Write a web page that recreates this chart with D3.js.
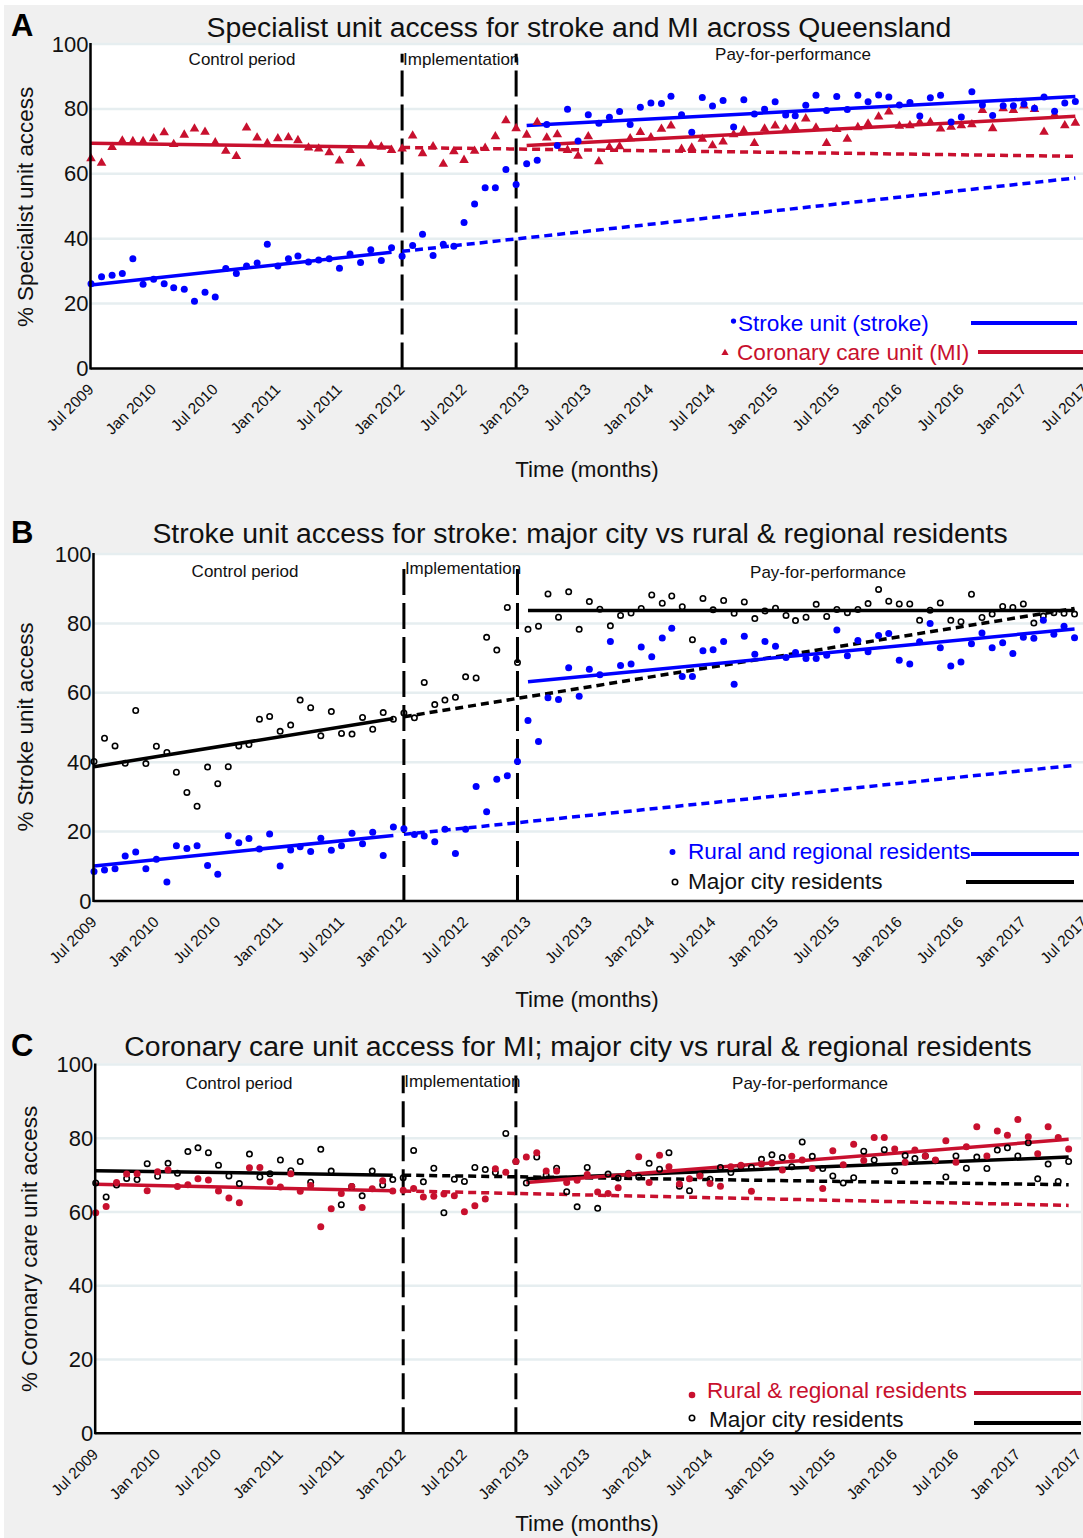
<!DOCTYPE html>
<html>
<head>
<meta charset="utf-8">
<script src="https://cdn.jsdelivr.net/npm/d3@7"></script>
<style>
  body { margin: 0; background: #fff; }
  svg { display: block; font-family: "Liberation Sans", Arial, Helvetica, sans-serif; }
</style>
</head>
<body>
<svg></svg>
<script>
// months Jul 2009 .. Jun 2017 (96 monthly points)
const startDate = new Date(2009, 6, 1);
const endDate = new Date(2017, 6, 1);
const monthDates = d3.timeMonth.range(startDate, endDate);
const tickDates = d3.timeMonth.every(6).range(startDate, new Date(2017, 7, 1));
const yTicks = [0, 20, 40, 60, 80, 100];
const phaseBreaks = [30, 41]; // Jan 2012, Dec 2012
const periodNames = ["Control period", "Implementation", "Pay-for-performance"];

// panel A
const strokeUnit = [26.1, 28.3, 28.7, 29.3, 33.8, 26.0, 27.5, 26.1, 24.9, 24.4, 20.7, 23.5, 22.0, 30.8, 29.3, 31.6, 32.5, 38.3, 31.6, 33.8, 34.7, 32.8, 33.4, 33.8, 30.9, 35.3, 32.7, 36.6, 33.3, 37.2, 34.6, 37.9, 41.4, 34.8, 38.3, 37.7, 45.0, 50.7, 55.7, 55.7, 61.3, 56.7, 63.1, 64.2,
  75.2, 68.7, 79.9, 70.1, 78.2, 75.6, 77.4, 79.2, 75.2, 80.5, 81.8, 81.7, 83.9, 78.2, 72.8, 83.5, 80.9, 82.6, 74.4, 82.8, 78.4, 79.9, 82.2, 78.1, 77.9, 81.1, 84.2, 79.5, 83.8, 79.8, 84.2, 82.2, 84.3, 83.7, 81.2, 82.0, 77.8, 83.4, 84.2, 76.0, 77.5, 85.3, 81.2, 78.0, 81.0, 81.0, 81.5, 80.2, 83.7, 79.3, 81.8, 82.3];
const coronaryUnit = [64.7, 63.3, 68.2, 70.2, 70.0, 70.0, 70.9, 72.7, 69.1, 72.0, 73.9, 72.9, 69.6, 67.0, 65.4, 74.2, 71.1, 69.4, 70.9, 71.2, 70.3, 68.0, 67.7, 66.6, 64.0, 67.3, 63.2, 68.9, 68.3, 67.3, 67.7, 71.7, 66.3, 68.4, 63.0, 66.9, 64.2, 67.0, 67.9, 71.5, 76.4, 74.0, 72.0, 75.9,
  71.1, 72.1, 67.3, 65.5, 71.5, 63.8, 68.2, 68.4, 70.9, 72.8, 71.2, 73.8, 74.8, 67.6, 68.0, 70.7, 68.7, 69.9, 72.1, 73.3, 69.4, 73.9, 74.8, 73.7, 74.3, 77.0, 74.2, 69.4, 73.7, 70.7, 74.3, 75.4, 77.6, 79.1, 74.7, 74.9, 75.8, 75.9, 73.9, 74.4, 74.9, 75.2, 79.6, 74.0, 80.1, 79.6, 81.0, 79.9, 72.9, 78.2, 74.9, 75.7];

// panel B
const strokeRural = [8.5, 8.9, 9.3, 13.0, 14.1, 9.3, 12.0, 5.5, 15.9, 15.1, 15.9, 10.2, 7.7, 18.8, 16.8, 18.0, 15.0, 19.3, 10.1, 14.7, 15.6, 14.3, 18.1, 14.6, 15.9, 19.5, 16.5, 19.8, 13.1, 21.3, 20.8, 19.2, 18.7, 17.1, 20.7, 13.7, 20.7, 33.0, 25.7, 35.1, 36.1, 40.2, 52.0, 46.0,
  58.6, 58.1, 67.2, 59.0, 66.8, 65.2, 74.8, 67.9, 68.3, 73.2, 70.4, 75.8, 78.6, 64.7, 64.7, 72.1, 72.4, 74.8, 62.5, 76.3, 71.1, 74.8, 73.4, 70.2, 71.6, 69.9, 69.9, 70.8, 78.1, 70.7, 75.1, 71.8, 76.5, 77.1, 69.4, 68.3, 74.7, 80.0, 73.0, 67.7, 68.9, 74.1, 77.2, 73.0, 74.4, 71.3, 76.0, 75.7, 80.9, 76.9, 79.2, 75.9];
const strokeCity = [40.2, 46.9, 44.7, 39.7, 54.9, 39.6, 44.6, 42.8, 37.1, 31.3, 27.3, 38.6, 33.8, 38.7, 44.7, 45.1, 52.4, 53.2, 48.9, 50.7, 57.9, 55.7, 47.6, 54.6, 48.3, 48.1, 52.9, 49.5, 54.3, 52.4, 54.2, 52.8, 63.0, 56.6, 57.9, 58.7, 64.6, 64.3, 76.0, 72.3, 84.6, 68.7, 78.3, 79.2,
  88.5, 81.8, 89.1, 78.3, 86.3, 84.1, 79.3, 82.3, 83.0, 84.3, 88.2, 85.8, 87.9, 84.8, 75.3, 87.2, 83.9, 86.6, 82.9, 86.2, 81.4, 83.6, 84.4, 82.3, 80.8, 81.8, 85.5, 82.0, 84.0, 83.1, 84.0, 85.7, 89.8, 86.4, 85.6, 85.6, 80.9, 83.8, 85.9, 80.9, 80.5, 88.4, 81.7, 82.7, 84.9, 84.6, 85.6, 80.1, 82.1, 83.1, 82.9, 82.7];

// panel C
const ccuRural = [59.8, 61.5, 68.0, 70.3, 70.4, 65.8, 70.9, 71.4, 66.9, 67.4, 69.0, 68.7, 65.7, 63.8, 62.5, 72.0, 72.1, 68.2, 66.8, 70.4, 65.6, 67.2, 56.0, 60.9, 65.0, 66.9, 61.2, 66.3, 68.5, 65.7, 65.9, 66.4, 64.1, 64.3, 64.9, 64.4, 60.1, 61.7, 63.5, 71.7, 70.8, 73.7, 74.9, 76.1,
  71.1, 71.1, 68.0, 68.6, 70.2, 65.4, 65.0, 66.6, 70.3, 75.0, 68.0, 75.4, 72.3, 67.6, 69.0, 69.8, 67.7, 67.0, 72.3, 72.7, 65.6, 73.0, 73.3, 71.4, 75.1, 74.1, 71.8, 66.4, 76.6, 72.8, 78.4, 74.0, 80.2, 80.2, 77.1, 73.5, 76.8, 75.2, 74.1, 79.3, 73.5, 77.7, 83.1, 75.2, 82.0, 80.8, 85.1, 80.4, 75.8, 83.1, 80.2, 77.1];
const ccuCity = [67.9, 64.1, 67.3, 69.1, 68.8, 73.1, 69.7, 73.2, 70.5, 76.4, 77.4, 76.1, 72.7, 69.8, 67.7, 75.7, 69.5, 70.4, 74.1, 71.2, 73.7, 68.1, 77.0, 71.1, 62.0, 66.9, 64.4, 71.1, 67.3, 68.8, 69.3, 76.7, 68.2, 71.9, 59.8, 68.9, 68.3, 72.1, 71.5, 70.7, 81.3, 73.7, 67.9, 74.9,
  70.0, 71.9, 65.5, 61.4, 72.1, 61.0, 70.3, 69.2, 70.5, 69.5, 73.2, 71.6, 76.1, 67.0, 65.8, 70.1, 68.9, 72.1, 70.7, 72.4, 72.1, 74.3, 75.5, 74.8, 72.3, 79.0, 75.1, 71.8, 69.8, 67.9, 69.3, 76.5, 74.1, 76.9, 71.1, 75.3, 74.5, 75.2, 73.9, 69.5, 75.2, 71.9, 74.9, 71.8, 76.8, 77.4, 75.2, 78.8, 69.0, 73.0, 68.3, 73.7];

// fitted segments: [startMonth, endMonth, startValue, endValue]; control, counterfactual, pay-for-performance
const strokeUnitFit = [[0, 29, 25.7, 35.8], [30, 95, 36.1, 58.7], [42, 95, 74.9, 83.8]];
const coronaryUnitFit = [[0, 29, 69.4, 68.2], [30, 95, 68.1, 65.4], [42, 95, 68.7, 77.7]];
const strokeRuralFit = [[0, 29, 10.1, 18.9], [30, 95, 19.2, 39.1], [42, 95, 63.2, 78.4]];
const strokeCityFit = [[0, 29, 38.7, 52.6], [30, 95, 53.1, 84.3], [42, 95, 83.7, 83.7]];
const ccuRuralFit = [[0, 29, 67.5, 65.8], [30, 95, 65.7, 61.8], [42, 95, 68.0, 79.7]];
const ccuCityFit = [[0, 29, 71.2, 70.0], [30, 95, 70.0, 67.4], [42, 95, 69.0, 74.9]];
const fitDash = [null, "8,5", null];

const blue = "#0000ff";
const red = "#c8102e";
const black = "#000";

const svg = d3.select("svg").attr("width", 1083).attr("height", 1538);
svg.append("rect").attr("x", 4).attr("y", 5).attr("width", 1079).attr("height", 1533).attr("fill", "#f0f0f0");

function drawMarker(sel, type, color, cx, cy, scale) {
  const k = scale || 1;
  if (type === "tri") {
    sel.append("path")
      .attr("d", d3.symbol(d3.symbolTriangle, 40 * k * k)())
      .attr("transform", `translate(${cx},${cy})`)
      .attr("fill", color);
  } else if (type === "ring") {
    sel.append("circle").attr("cx", cx).attr("cy", cy).attr("r", 2.7 * k)
      .attr("fill", "none").attr("stroke", color).attr("stroke-width", 1.6);
  } else {
    sel.append("circle").attr("cx", cx).attr("cy", cy).attr("r", 3.5 * k).attr("fill", color);
  }
}

function drawPanel(p) {
  const x = d3.scaleTime().domain([startDate, endDate]).range([p.x0, p.x0 + 96 * p.step]);
  const y = d3.scaleLinear().domain([0, 100]).range([p.y0, p.y100]);
  const ax = p.x0 - 0.5;
  const g = svg.append("g");

  g.append("rect").attr("x", ax).attr("y", y(100) - 1)
    .attr("width", p.right - ax).attr("height", y(0) - y(100) + 1).attr("fill", "#fff");

  g.selectAll(".grid").data(yTicks.filter(d => d > 0)).join("line")
    .attr("class", "grid")
    .attr("x1", ax).attr("x2", p.right)
    .attr("y1", d => y(d)).attr("y2", d => y(d))
    .attr("stroke", "#e6eef0").attr("stroke-width", 2.5);

  g.selectAll(".phase").data(phaseBreaks).join("line")
    .attr("class", "phase")
    .attr("x1", d => x(monthDates[d])).attr("x2", d => x(monthDates[d]))
    .attr("y1", y(0)).attr("y2", y(97))
    .attr("stroke", black).attr("stroke-width", 3).attr("stroke-dasharray", "26,8");

  // period labels
  g.append("text").attr("x", p.periodX[0]).attr("y", p.periodY[0]).attr("text-anchor", "middle")
    .attr("font-size", 17).attr("fill", "#111").text(periodNames[0]);
  g.append("text").attr("x", x(monthDates[phaseBreaks[0]]) + 1).attr("y", p.periodY[1])
    .attr("font-size", 17).attr("fill", "#111").text(periodNames[1]);
  g.append("text").attr("x", p.periodX[2]).attr("y", p.periodY[2]).attr("text-anchor", "middle")
    .attr("font-size", 17).attr("fill", "#111").text(periodNames[2]);

  const line = d3.line().x(d => x(monthDates[d[0]])).y(d => y(d[1]));

  p.series.forEach(s => {
    s.fit.forEach((f, i) => {
      g.append("path")
        .attr("d", line([[f[0], f[2]], [f[1], f[3]]]))
        .attr("stroke", s.color).attr("stroke-width", 3.5).attr("fill", "none")
        .attr("stroke-dasharray", fitDash[i]);
    });
  });

  p.series.forEach(s => {
    const pts = g.append("g");
    s.values.forEach((v, i) => drawMarker(pts, s.marker, s.color, x(monthDates[i]), y(v)));
  });

  // axes
  const gx = g.append("g").attr("transform", `translate(0,${y(0)})`)
    .call(d3.axisBottom(x).tickValues(tickDates).tickFormat(d3.timeFormat("%b %Y")).tickSize(0));
  gx.attr("font-family", null).attr("font-size", 15.5);
  gx.select(".domain").remove();
  gx.selectAll("text")
    .attr("x", 0).attr("y", 0).attr("dy", null)
    .attr("transform", "translate(3,22) rotate(-45)")
    .attr("text-anchor", "end").attr("fill", "#111");

  const gy = g.append("g").attr("transform", `translate(${ax},0)`)
    .call(d3.axisLeft(y).tickValues(yTicks).tickSize(0).tickPadding(2));
  gy.attr("font-family", null).attr("font-size", 22);
  gy.select(".domain").remove();
  gy.selectAll("text").attr("fill", "#111");

  g.append("line").attr("x1", ax).attr("x2", p.right).attr("y1", y(0)).attr("y2", y(0))
    .attr("stroke", black).attr("stroke-width", 2.5);
  g.append("line").attr("x1", ax).attr("x2", ax).attr("y1", y(100) - 1).attr("y2", y(0) + 1)
    .attr("stroke", black).attr("stroke-width", 2.5);

  // titles
  g.append("text").attr("x", 11).attr("y", p.letterY).attr("font-size", 31).attr("font-weight", "bold")
    .text(p.letter);
  g.append("text").attr("x", p.titleX).attr("y", p.titleY).attr("text-anchor", "middle")
    .attr("font-size", 28.4).attr("fill", "#111").text(p.title);
  g.append("text").attr("transform", `translate(${p.yTitleX},${p.yTitleY}) rotate(-90)`)
    .attr("text-anchor", "middle").attr("font-size", 22.4).attr("fill", "#111").text(p.yTitle);
  g.append("text").attr("x", 587).attr("y", p.timeY).attr("text-anchor", "middle")
    .attr("font-size", 22.4).attr("fill", "#111").text("Time (months)");

  // legend
  p.legend.forEach(l => {
    drawMarker(g, l.marker, l.color, l.mx, l.my, l.ms);
    g.append("text").attr("x", l.tx).attr("y", l.ty).attr("font-size", 22.6)
      .attr("fill", l.textColor).text(l.label);
    g.append("line").attr("x1", l.lx[0]).attr("x2", l.lx[1]).attr("y1", l.ly).attr("y2", l.ly)
      .attr("stroke", l.color).attr("stroke-width", 4);
  });
}

drawPanel({
  letter: "A", letterY: 36,
  title: "Specialist unit access for stroke and MI across Queensland", titleX: 579, titleY: 37,
  yTitle: "% Specialist unit access", yTitleX: 33, yTitleY: 207, timeY: 477,
  x0: 91, step: 10.36, y0: 368.5, y100: 44, right: 1083,
  periodX: [242, 405, 793], periodY: [65, 65, 60],
  series: [
    { values: coronaryUnit, fit: coronaryUnitFit, color: red, marker: "tri" },
    { values: strokeUnit, fit: strokeUnitFit, color: blue, marker: "dot" }
  ],
  legend: [
    { marker: "dot", ms: 0.75, color: blue, textColor: blue, mx: 733.5, my: 321, tx: 738, ty: 331, label: "Stroke unit (stroke)", lx: [971, 1077], ly: 323 },
    { marker: "tri", ms: 0.75, color: red, textColor: red, mx: 725, my: 353, tx: 737, ty: 360, label: "Coronary care unit (MI)", lx: [978, 1083], ly: 352 }
  ]
});

drawPanel({
  letter: "B", letterY: 543,
  title: "Stroke unit access for stroke: major city vs rural & regional residents", titleX: 580, titleY: 543,
  yTitle: "% Stroke unit access", yTitleX: 33, yTitleY: 727, timeY: 1007,
  x0: 94, step: 10.32, y0: 901, y100: 554, right: 1083,
  periodX: [245, 405, 828], periodY: [577, 574, 578],
  series: [
    { values: strokeCity, fit: strokeCityFit, color: black, marker: "ring" },
    { values: strokeRural, fit: strokeRuralFit, color: blue, marker: "dot" }
  ],
  legend: [
    { marker: "dot", ms: 0.85, color: blue, textColor: blue, mx: 672.5, my: 852, tx: 688, ty: 859, label: "Rural and regional residents", lx: [971, 1079], ly: 854 },
    { marker: "ring", ms: 1, color: black, textColor: "#111", mx: 675, my: 882, tx: 688, ty: 889, label: "Major city residents", lx: [966, 1074], ly: 882 }
  ]
});

drawPanel({
  letter: "C", letterY: 1056,
  title: "Coronary care unit access for MI; major city vs rural & regional residents", titleX: 578, titleY: 1056,
  yTitle: "% Coronary care unit access", yTitleX: 37, yTitleY: 1249, timeY: 1531,
  x0: 95.7, step: 10.24, y0: 1433.3, y100: 1064.5, right: 1081,
  periodX: [239, 404, 810], periodY: [1089, 1087, 1089],
  series: [
    { values: ccuCity, fit: ccuCityFit, color: black, marker: "ring" },
    { values: ccuRural, fit: ccuRuralFit, color: red, marker: "dot" }
  ],
  legend: [
    { marker: "dot", ms: 0.95, color: red, textColor: red, mx: 692, my: 1395, tx: 707, ty: 1398, label: "Rural & regional residents", lx: [974, 1081], ly: 1393 },
    { marker: "ring", ms: 1, color: black, textColor: "#111", mx: 692, my: 1418, tx: 709, ty: 1427, label: "Major city residents", lx: [974, 1081], ly: 1423 }
  ]
});
</script>
</body>
</html>
